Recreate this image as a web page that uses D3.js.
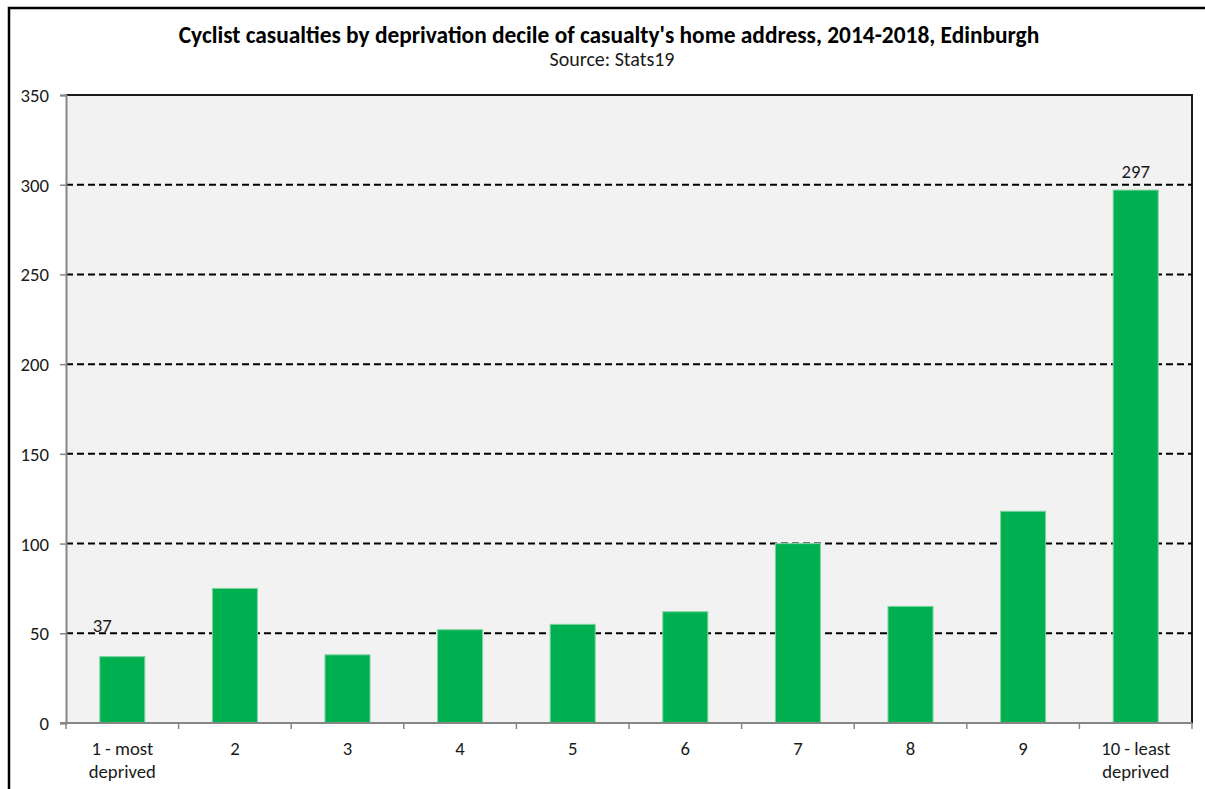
<!DOCTYPE html>
<html>
<head>
<meta charset="utf-8">
<script src="https://cdn.jsdelivr.net/npm/d3@7"></script>
<style>
  html, body { margin: 0; padding: 0; background: #ffffff; }
  svg { display: block; font-family: Carlito, Calibri, "Open Sans", sans-serif; }
</style>
</head>
<body>
<svg id="chart" width="1205" height="789"></svg>
<script>
// Deprivation deciles and cyclist casualty counts (2014-2018)
const categories = ["1 - most|deprived", "2", "3", "4", "5", "6", "7", "8", "9", "10 - least|deprived"];
const casualties = [37, 75, 38, 52, 55, 62, 100, 65, 118, 297];
const yTicks = [0, 50, 100, 150, 200, 250, 300, 350];
const labelledDeciles = ["1 - most|deprived", "10 - least|deprived"];

const title = "Cyclist casualties by deprivation decile of casualty's home address, 2014-2018, Edinburgh";
const subtitle = "Source: Stats19";

const FONT = "Carlito, Calibri, 'Open Sans', sans-serif";
const LABEL_SIZE = 18.7;
const svg = d3.select("#chart");
const W = 1205, H = 789;
const plot = { left: 66, right: 1192, top: 95, bottom: 723 };

// outer chart frame
svg.append("rect")
  .attr("x", 9).attr("y", 8).attr("width", W + 20).attr("height", H + 20)
  .attr("fill", "#ffffff").attr("stroke", "#000000").attr("stroke-width", 2.5);

const x = d3.scaleBand().domain(categories).range([plot.left, plot.right]).paddingInner(0.6).paddingOuter(0.3);
const xEdges = d3.scaleBand().domain(categories).range([plot.left, plot.right]).padding(0);
const y = d3.scaleLinear().domain([0, 350]).range([plot.bottom, plot.top]);

// plot area
svg.append("rect")
  .attr("x", plot.left).attr("y", plot.top)
  .attr("width", plot.right - plot.left).attr("height", plot.bottom - plot.top)
  .attr("fill", "#f2f2f2");
svg.append("path")
  .attr("d", `M${plot.left},${plot.top}H${plot.right}V${plot.bottom}`)
  .attr("fill", "none").attr("stroke", "#1a1a1a").attr("stroke-width", 2);

// dashed gridlines
svg.append("g").selectAll("line")
  .data(yTicks.filter(t => t > 0 && t < 350))
  .join("line")
  .attr("x1", plot.left).attr("x2", plot.right)
  .attr("y1", d => y(d)).attr("y2", d => y(d))
  .attr("stroke", "#000000").attr("stroke-width", 2).attr("stroke-dasharray", "7,4");

// bars
svg.append("g").selectAll("rect")
  .data(categories.map((c, i) => ({ c, v: casualties[i] })))
  .join("rect")
  .attr("x", d => x(d.c)).attr("width", x.bandwidth())
  .attr("y", d => y(d.v)).attr("height", d => y(0) - y(d.v))
  .attr("fill", "#00b050").attr("stroke", "#7fd4a0").attr("stroke-width", 1);

// value labels on the first and last decile
const labelOffsets = { "1 - most|deprived": [-20, -25], "10 - least|deprived": [0, -12] };
svg.append("g").selectAll("text")
  .data(labelledDeciles)
  .join("text")
  .attr("x", d => x(d) + x.bandwidth() / 2 + labelOffsets[d][0])
  .attr("y", d => y(casualties[categories.indexOf(d)]) + labelOffsets[d][1])
  .attr("text-anchor", "middle").attr("font-size", LABEL_SIZE).attr("fill", "#1a1a1a")
  .text(d => casualties[categories.indexOf(d)]);

// y axis
const yAxis = svg.append("g").attr("transform", `translate(${plot.left},0)`)
  .call(d3.axisLeft(y).tickValues(yTicks).tickSize(6).tickPadding(11));
yAxis.select(".domain").attr("stroke", "#868686").attr("stroke-width", 2);
yAxis.selectAll(".tick line").attr("stroke", "#868686").attr("stroke-width", 1.5);
yAxis.selectAll(".tick text").attr("font-size", LABEL_SIZE).attr("fill", "#1a1a1a")
  .attr("font-family", FONT).attr("dy", "0.35em");

// x axis baseline and boundary ticks
const xAxisG = svg.append("g");
xAxisG.append("line")
  .attr("x1", plot.left - 6).attr("x2", plot.right)
  .attr("y1", plot.bottom).attr("y2", plot.bottom)
  .attr("stroke", "#868686").attr("stroke-width", 2);
xAxisG.selectAll("line.tk")
  .data(categories.map(c => xEdges(c)).concat([plot.right]))
  .join("line").attr("class", "tk")
  .attr("x1", d => d).attr("x2", d => d)
  .attr("y1", plot.bottom).attr("y2", plot.bottom + 6)
  .attr("stroke", "#868686").attr("stroke-width", 1.5);

// category labels
const catText = xAxisG.selectAll("text")
  .data(categories)
  .join("text")
  .attr("text-anchor", "middle").attr("font-size", LABEL_SIZE).attr("fill", "#1a1a1a")
  .attr("transform", d => `translate(${x(d) + x.bandwidth() / 2},${plot.bottom + 32})`);
catText.selectAll("tspan")
  .data(d => d.split("|"))
  .join("tspan")
  .attr("x", 0).attr("dy", (d, i) => i === 0 ? 0 : 23)
  .text(d => d);

// titles
svg.append("text")
  .attr("x", 609).attr("y", 43).attr("text-anchor", "middle")
  .attr("font-size", 23.4).attr("font-weight", "bold").attr("fill", "#000000")
  .text(title);
svg.append("text")
  .attr("x", 612).attr("y", 66).attr("text-anchor", "middle")
  .attr("font-size", 20).attr("fill", "#1a1a1a")
  .text(subtitle);
</script>
</body>
</html>
